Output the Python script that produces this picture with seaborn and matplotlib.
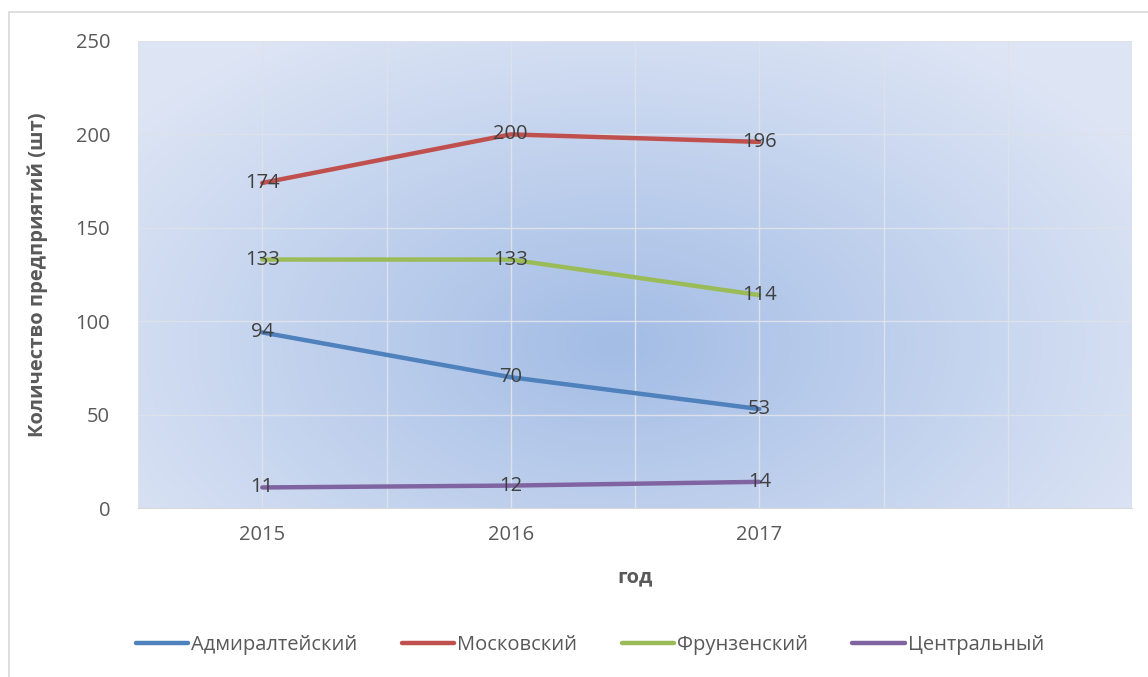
import numpy as np
import pandas as pd
import matplotlib.pyplot as plt
import seaborn as sns
from matplotlib.patches import Rectangle

years = ['2015', '2016', '2017']
districts = ['Адмиралтейский', 'Московский', 'Фрунзенский', 'Центральный']
admiralteysky = [94, 70, 53]
moskovsky = [174, 200, 196]
frunzensky = [133, 133, 114]
centralny = [11, 12, 14]
colors = ['#4f81bd', '#c0504d', '#9bbb59', '#8064a2']

# long-form table for seaborn
values = [admiralteysky, moskovsky, frunzensky, centralny]
rows = []
for name, vals in zip(districts, values):
    for i, v in enumerate(vals):
        rows.append({'pos': i, 'год': years[i], 'район': name, 'count': v})
df = pd.DataFrame(rows)

sns.set_style('white')
plt.rcParams['font.family'] = ['Open Sans', 'DejaVu Sans']
fs = 14.5

fig = plt.figure(figsize=(11.48, 6.77), dpi=100)
ax = fig.add_axes([138 / 1148, 1 - 508 / 677, 994 / 1148, 467 / 677])

# radial blue gradient background
gx, gy = np.meshgrid(np.linspace(0, 1, 300), np.linspace(0, 1, 200))
r = np.sqrt(((gx - 0.48) / 0.62) ** 2 + ((gy - 0.65) / 0.8) ** 2)
r = np.clip(r, 0, 1)
c_in = np.array([0.64, 0.74, 0.90])
c_out = np.array([0.87, 0.90, 0.96])
img = c_in[None, None, :] * (1 - r[..., None]) + c_out[None, None, :] * r[..., None]
ax.imshow(img, extent=[0, 1, 0, 1], transform=ax.transAxes, aspect='auto', zorder=0)

sns.lineplot(data=df, x='pos', y='count', hue='район', palette=colors,
             linewidth=3.2, ax=ax, zorder=3, legend=True)

for name, vals in zip(districts, values):
    for i, v in enumerate(vals):
        ax.text(i, v, str(v), ha='center', va='center', fontsize=fs,
                color='#404040', zorder=4)

ax.set_xlim(-0.5, 3.5)
ax.set_ylim(0, 250)
ax.set_yticks(range(0, 251, 50))
ax.set_xticks(range(len(years)))
ax.set_xticklabels(years)
for xg in np.arange(-0.5, 3.6, 0.5):
    ax.axvline(xg, color='#dde2ea', lw=1, zorder=1)
for yg in range(50, 251, 50):
    ax.axhline(yg, color='#dde2ea', lw=1, zorder=1)
ax.tick_params(axis='both', length=0, labelsize=fs, colors='#595959', pad=12)
ax.tick_params(axis='y', pad=20)
for s in ['top', 'right', 'left']:
    ax.spines[s].set_visible(False)
ax.spines['bottom'].set_color('#d9d9d9')

ax.set_xlabel('год', fontsize=fs, fontweight='bold', color='#595959', labelpad=16)
ax.set_ylabel('Количество предприятий (шт)', fontsize=fs, fontweight='bold',
              color='#595959', labelpad=20)

handles, labels = ax.get_legend_handles_labels()
ax.legend(handles, labels, loc='center', bbox_to_anchor=(0.514, 1 - 645 / 677),
          bbox_transform=fig.transFigure, ncol=4, frameon=False, fontsize=fs,
          labelcolor='#595959', handlelength=2.6, handletextpad=0.15,
          columnspacing=2.2)

fig.patches.append(Rectangle((9 / 1148, -0.1), 1.2, 1 - 12 / 677 + 0.1,
                             transform=fig.transFigure, fill=False,
                             edgecolor='#d9d9d9', lw=1.2))

fig.savefig('out.png', dpi=100)
